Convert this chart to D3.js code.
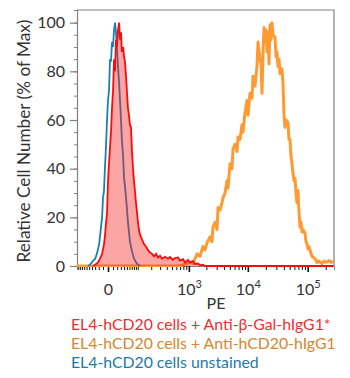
<!DOCTYPE html>
<html>
<head>
<meta charset="utf-8">
<script src="https://cdn.jsdelivr.net/npm/d3@7"></script>
<style>
  body { margin: 0; background: #fff; }
  svg { font-family: Lato, "Open Sans", sans-serif; }
  .axis text { fill: #333; }
</style>
</head>
<body>
<script>
let w = 350;
let h = 378;
let padL = 77, padR = 334, padT = 10, padB = 266;

// PE values and % of max
let blueX = [-54, -47, -37, -30, -25, -19, -17, -14.5, -12, -10, -7.8, -6, -4, -1.8, 0, 1.8, 3.8, 5.7, 7.8, 10,
  12.2, 14.5, 16.9, 19, 22, 25, 27.5, 30.4, 33, 37, 40, 43, 46.8, 50, 54, 58, 62, 71, 80.5, 90.6, 101.6, 113];
let blueY = [0, 0.5, 2, 3, 5, 9, 12, 16, 20, 28, 31, 40, 48, 60, 68, 72, 85, 84, 92, 90,
  97, 100, 96, 90, 82, 75, 68, 60, 52, 45, 36, 33, 28, 24, 18, 14, 10, 6, 3, 1.5, 0.5, 0];

let redX = [-37, -30, -22, -17, -12, -7.8, -6, -4, -1.8, 0, 1.8, 3.8, 5.7, 7.8, 10, 12.2, 14.5, 16.9, 19, 22,
  25, 27.5, 30.4, 33, 37, 40, 43, 46.8, 50, 54, 58, 62, 66.6, 71, 75.7, 80.5, 85, 90.6, 96, 101.6,
  107, 113, 126, 140, 155, 171, 189, 207, 228, 250, 273, 299, 326, 372, 423, 460, 522, 568, 643, 698,
  789, 855, 965, 1046, 1180, 1277, 1439, 1557, 1753, 1896, 270000];
let redY = [0, 0.5, 1.5, 3, 5, 9, 12, 17, 22, 35, 42, 49, 55, 65, 72, 85, 80, 93, 90, 97,
  100, 93, 96, 88, 90, 86, 84, 78, 72, 65, 62, 58, 57, 47, 40, 35, 31, 26, 22, 18,
  15, 13, 11, 9, 8, 6.5, 5.5, 5, 4, 5, 3.5, 4.2, 3, 3.8, 3, 3.7, 2.5, 3.3, 3.5, 2.2,
  2.8, 1.5, 2.5, 1.5, 2, 0.8, 1, 0.3, 0.5, 0, 0];

let orangeX = [-107, 698, 855, 1046, 1180, 1277, 1383, 1557, 1753, 1896, 2052, 2308, 2495, 2595, 2806, 3036, 3154, 3408, 3686, 3830,
  4140, 4474, 4653, 5026, 5429, 5646, 6097, 6590, 6848, 7398, 7990, 8306, 8974, 9695, 10072, 10880, 11750, 12215, 13190, 14260,
  14815, 16000, 16630, 17280, 17960, 18660, 19400, 20160, 20930, 21770, 22610, 23500, 24420, 25380, 26360, 28480, 29600, 30750, 31960, 33220,
  34500, 37270, 38710, 40260, 41800, 43440, 46930, 48750, 50680, 52670, 54750, 56870, 59120, 61430, 63830, 66320, 68900, 71600, 74400, 77310,
  80330, 83500, 90100, 93700, 97340, 101150, 105150, 109200, 113600, 117900, 127400, 132400, 143000, 154400, 160400, 173300, 187100, 202000, 209900, 226500,
  244600, 264300];
let orangeY = [0, 0, 0.8, 1.5, 1, 3, 5, 4, 8, 6.6, 9.5, 12, 10, 16, 18, 15, 24, 23, 26, 28,
  30, 35, 32, 42, 40, 48, 50, 47, 53, 52, 58, 55, 63, 68, 62, 71, 69, 78, 74, 82,
  92, 85, 83, 71, 88, 98, 92, 97, 88, 96, 83, 99, 93, 100, 95, 94, 86, 88, 82, 85,
  79, 81, 75, 62, 57, 60, 59, 52, 52, 45, 42, 38, 35, 36, 30, 26, 31, 22, 16, 18,
  14, 15, 13.5, 10, 9, 7, 8, 6.6, 5, 4, 3.3, 3, 1.5, 2, 1.6, 1, 2, 1.5, 1.6, 2.2,
  1.5, 2];

let yTicks = [0, 20, 40, 60, 80, 100];
let xMajor = [0, 1e3, 1e4, 1e5];
let xLabels = [["0", ""], ["10", "3"], ["10", "4"], ["10", "5"]];

let legendTexts = [
  "EL4-hCD20 cells + Anti-\u03b2-Gal-hIgG1*",
  "EL4-hCD20 cells + Anti-hCD20-hIgG1",
  "EL4-hCD20 cells unstained"
];
let legendColors = ["#ee2e30", "#d5862e", "#1c7aa6"];

// minor ticks on the biexponential axis
let xMinor = [];
[10, 100, 1000, 10000, 100000].forEach((d) => {
  for (let i = 1; i <= 9; i++) {
    xMinor.push(i * d);
    xMinor.push(-i * d);
  }
});

let xScale = d3.scaleSymlog()
  .constant(47)
  .domain([-107.5, 274400])
  .range([padL, padR]);

xMinor = xMinor.filter((v) => v > -107.5 && v < 274400 && xMajor.indexOf(v) < 0);

let yScale = d3.scaleLinear()
  .domain([0, 105.2])
  .range([padB, padT]);

let svg = d3.select("body")
  .append("svg")
  .attr("width", w)
  .attr("height", h);

svg.append("clipPath")
  .attr("id", "clip")
  .append("rect")
  .attr("x", padL)
  .attr("y", padT - 2)
  .attr("width", padR - padL)
  .attr("height", padB - padT + 3);

// frame
svg.append("path")
  .attr("d", "M" + padL + "," + padT + "H" + padR + "V" + padB)
  .attr("fill", "none")
  .attr("stroke", "#808080")
  .attr("stroke-width", 1.2);

// axes
let yAxisMinor = d3.axisLeft(yScale)
  .tickValues(d3.range(0, 101, 5))
  .tickSize(3)
  .tickFormat("");
svg.append("g")
  .attr("transform", "translate(" + padL + ",0)")
  .call(yAxisMinor)
  .call((g) => g.selectAll("line").attr("stroke", "#808080"))
  .call((g) => g.select(".domain").attr("stroke", "#808080").attr("stroke-width", 1.2));

let yAxis = d3.axisLeft(yScale)
  .tickValues(yTicks)
  .tickSize(7)
  .tickPadding(5);
svg.append("g")
  .attr("class", "axis")
  .attr("transform", "translate(" + padL + ",0)")
  .call(yAxis)
  .call((g) => g.select(".domain").remove())
  .call((g) => g.selectAll("line").attr("stroke", "#808080").attr("stroke-width", 1.2))
  .call((g) => g.selectAll("text").attr("font-size", 16).attr("font-family", "Lato"));

let xAxisMinor = d3.axisBottom(xScale)
  .tickValues(xMinor)
  .tickSize(4)
  .tickFormat("");
svg.append("g")
  .attr("transform", "translate(0," + padB + ")")
  .call(xAxisMinor)
  .call((g) => g.selectAll("line").attr("stroke", "#111"))
  .call((g) => g.select(".domain").attr("stroke", "#808080"));

let xAxis = d3.axisBottom(xScale)
  .tickValues(xMajor)
  .tickSize(6)
  .tickPadding(10)
  .tickFormat("");
let gx = svg.append("g")
  .attr("class", "axis")
  .attr("transform", "translate(0," + padB + ")")
  .call(xAxis)
  .call((g) => g.select(".domain").remove())
  .call((g) => g.selectAll("line").attr("stroke", "#111").attr("stroke-width", 1.6));

gx.selectAll(".tick text").each(function(d, i) {
  let t = d3.select(this)
    .attr("font-size", 16)
    .attr("font-family", "Lato")
    .attr("y", 29)
    .attr("dy", null);
  t.append("tspan").text(xLabels[i][0]);
  if (xLabels[i][1]) {
    t.append("tspan")
      .attr("font-size", 11)
      .attr("dy", -7)
      .text(xLabels[i][1]);
  }
});

// histograms
let plot = svg.append("g").attr("clip-path", "url(#clip)");

let line = d3.line()
  .x((d) => xScale(d[0]))
  .y((d) => yScale(d[1]));
let area = d3.area()
  .x((d) => xScale(d[0]))
  .y0(yScale(0))
  .y1((d) => yScale(d[1]));

let orange = orangeX.map((x, i) => [x, orangeY[i]]);
let blue = blueX.map((x, i) => [x, blueY[i]]);
let red = redX.map((x, i) => [x, redY[i]]);

plot.append("path")
  .datum(orange)
  .attr("d", line)
  .attr("fill", "none")
  .attr("stroke", "#ff9a33")
  .attr("stroke-width", 3)
  .attr("stroke-linejoin", "round");

plot.append("path")
  .datum(blue)
  .attr("d", line)
  .attr("fill", "none")
  .attr("stroke", "#1b80b4")
  .attr("stroke-width", 1.8);

plot.append("path")
  .datum(red)
  .attr("d", area)
  .attr("fill", "rgba(245, 30, 30, 0.4)");

plot.append("path")
  .datum(red)
  .attr("d", line)
  .attr("fill", "none")
  .attr("stroke", "#ff0a0a")
  .attr("stroke-width", 1.8);

// labels
svg.append("text")
  .attr("transform", "translate(30,141) rotate(-90)")
  .attr("text-anchor", "middle")
  .attr("font-size", 17.2)
  .attr("fill", "#333")
  .text("Relative Cell Number (% of Max)");

svg.append("text")
  .attr("x", 216)
  .attr("y", 309)
  .attr("text-anchor", "middle")
  .attr("font-size", 16)
  .attr("fill", "#333")
  .text("PE");

svg.selectAll(".legend")
  .data(legendTexts)
  .enter()
  .append("text")
  .attr("class", "legend")
  .attr("x", 71)
  .attr("y", (d, i) => 330 + i * 19)
  .attr("font-size", 15.8)
  .attr("fill", (d, i) => legendColors[i])
  .text((d) => d);
</script>
</body>
</html>
